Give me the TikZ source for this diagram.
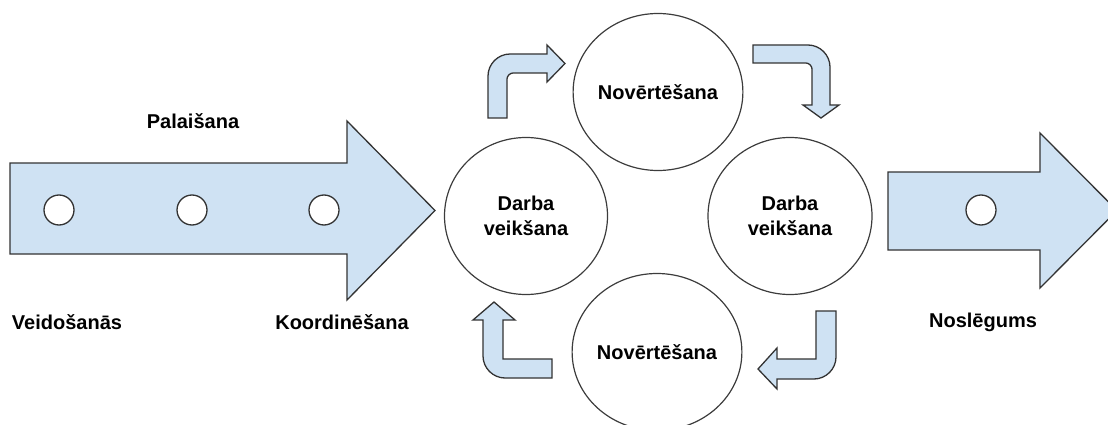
\documentclass[tikz,border=0pt]{standalone}
\usepackage{fontspec}
\setmainfont{Liberation Sans}
\usetikzlibrary{shapes.geometric}
\definecolor{arrowfill}{RGB}{207,226,243}
\definecolor{arrowline}{RGB}{51,51,51}
\definecolor{ringline}{RGB}{60,60,60}
\tikzset{
  bigarrow/.style={fill=arrowfill, draw=arrowline, line width=1.3pt, line join=miter},
  bentarrow/.style={fill=arrowfill, draw=arrowline, line width=1.3pt, line join=miter},
  dot/.style={circle, draw=arrowline, fill=white, line width=1.3pt, minimum size=30pt, inner sep=0pt},
  phase/.style={ellipse, draw=ringline, line width=1.2pt, inner sep=0pt, align=center,
                font=\bfseries\fontsize{20}{25}\selectfont},
  caption/.style={inner sep=0pt, font=\bfseries\fontsize{20}{24}\selectfont}
}
\begin{document}
\begin{tikzpicture}[x=1pt, y=-1pt]
\useasboundingbox (0,0) rectangle (1108,425);
\clip (0,0) rectangle (1108,425);

% main timeline arrow
\draw[bigarrow] (10,163) -- (347,163) -- (347,121) -- (435,210.5) -- (347,300)
  -- (347,254) -- (10,254) -- cycle;
\node[dot] (d1) at (59,210) {};
\node[dot] (d2) at (192,210) {};
\node[dot] (d3) at (324,210) {};

% closing arrow
\draw[bigarrow] (888,172) -- (1040,172) -- (1040,133) -- (1117,210.5) -- (1040,288)
  -- (1040,250) -- (888,250) -- cycle;
\node[dot] (d4) at (981,210) {};

% cycle of phases
\node[phase, minimum width=168pt, minimum height=157pt] (evalTop) at (658,92) {Novērtēšana};
\node[phase, minimum width=163pt, minimum height=157pt] (workL) at (526,216) {Darba\\veikšana};
\node[phase, minimum width=164pt, minimum height=157pt] (workR) at (790,216) {Darba\\veikšana};
\node[phase, minimum width=169pt, minimum height=157pt] (evalBot) at (657,352) {Novērtēšana};

% bent arrows between the phases
\draw[bentarrow] (488,118) -- (488,76) .. controls (488,64) and (498,54) .. (510,54)
  -- (547,54) -- (547,45) -- (565,63.5) -- (547,82) -- (547,73) -- (513,73)
  .. controls (510,73) and (507,76) .. (507,79) -- (507,118) -- cycle;
\draw[bentarrow] (753,45) -- (808,45) .. controls (820,45) and (830,55) .. (830,67)
  -- (830,105) -- (839,105) -- (821,118) -- (803,105) -- (812,105) -- (812,69)
  .. controls (812,66) and (809,63) .. (806,63) -- (753,63) -- cycle;
\draw[bentarrow] (816,311) -- (836,311) -- (836,357) .. controls (836,369) and (826,379) .. (814,379)
  -- (777,379) -- (777,389) -- (758,369) -- (777,348) -- (777,359) -- (816,359) -- cycle;
\draw[bentarrow] (494,302) -- (515,320) -- (503,320) -- (503,359) -- (552,359) -- (552,378)
  -- (505,378) .. controls (493,378) and (483,368) .. (483,356) -- (483,320) -- (473,320) -- cycle;

% phase captions
\node[caption] (start) at (193,121) {Palaišana};
\node[caption] (form) at (67,322) {Veidošanās};
\node[caption] (coord) at (342,322) {Koordinēšana};
\node[caption] (close) at (983,322) {Noslēgums};
\end{tikzpicture}
\end{document}
